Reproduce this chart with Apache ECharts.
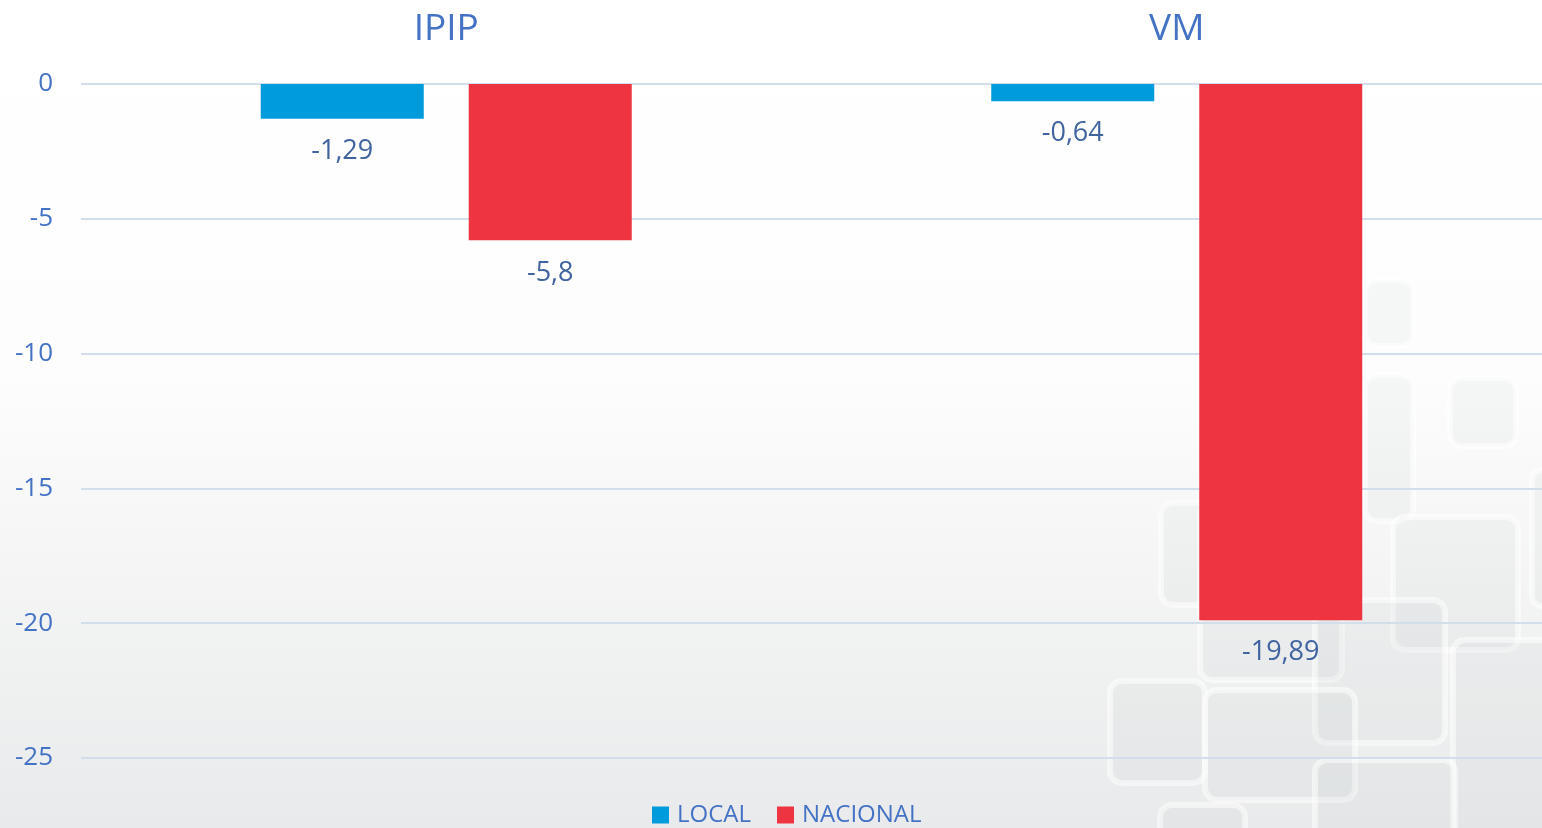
<!DOCTYPE html>
<html>
<head>
<meta charset="utf-8">
<script src="https://cdn.jsdelivr.net/npm/echarts@6/dist/echarts.min.js"></script>
<style>
  html, body { margin: 0; padding: 0; }
  #chart { width: 1542px; height: 828px; }
</style>
</head>
<body>
<div id="chart"></div>
<script>
const categories = ['IPIP', 'VM'];
const localValues = [-1.29, -0.64];
const nacionalValues = [-5.8, -19.89];
const seriesNames = ['LOCAL', 'NACIONAL'];

const textBlue = '#4472C4';
const labelBlue = '#3F64A0';

// decorative rounded squares in the lower right corner
const deco = [
  [1365, 280, 48, 66], [1365, 375, 48, 146], [1450, 378, 66, 68], [1532, 470, 20, 136],
  [1161, 503, 80, 102], [1200, 500, 142, 180], [1393, 517, 125, 133],
  [1315, 600, 130, 143], [1453, 640, 100, 200], [1110, 681, 95, 102],
  [1205, 690, 150, 110], [1160, 805, 85, 40], [1315, 760, 140, 80]
];

const chart = echarts.init(document.getElementById('chart'));

const valueLabel = {
  show: true, position: 'bottom', distance: 19,
  fontSize: 27, color: labelBlue, fontFamily: 'Open Sans',
  formatter: p => String(p.value).replace('.', ',')
};

const option = {
  backgroundColor: {
    type: 'linear', x: 0, y: 0, x2: 0, y2: 1,
    colorStops: [
      {offset: 0, color: '#ffffff'},
      {offset: 0.45, color: '#fdfdfd'},
      {offset: 1, color: '#e9eaeb'}
    ]
  },
  textStyle: {fontFamily: 'Open Sans'},
  graphic: deco.map(d => ({
    type: 'rect',
    z: -1,
    silent: true,
    shape: {x: d[0], y: d[1], width: d[2], height: d[3], r: 12},
    style: {fill: 'rgba(190,194,200,0.12)', stroke: 'rgba(255,255,255,0.5)', lineWidth: 6}
  })),
  legend: {
    data: seriesNames,
    left: 647,
    bottom: -4,
    icon: 'rect',
    itemWidth: 17,
    itemHeight: 17,
    itemGap: 26,
    textStyle: {fontSize: 24, color: textBlue, fontFamily: 'Open Sans', padding: [0, 0, 0, 3]}
  },
  grid: {left: 81, right: 0, top: 84, bottom: 70},
  xAxis: {
    type: 'category',
    data: categories,
    position: 'top',
    axisLine: {show: false},
    axisTick: {show: false},
    axisLabel: {fontSize: 37, color: textBlue, margin: 36, fontFamily: 'Open Sans'}
  },
  yAxis: {
    type: 'value',
    min: -25,
    max: 0,
    interval: 5,
    axisLine: {show: false},
    axisTick: {show: false},
    splitLine: {lineStyle: {color: '#D3DEEC', width: 2}},
    axisLabel: {fontSize: 26, color: textBlue, margin: 28, fontFamily: 'Open Sans'}
  },
  series: [
    {
      name: seriesNames[0],
      type: 'bar',
      data: localValues,
      barWidth: 163,
      barGap: '27.6%',
      itemStyle: {color: '#009BDB'},
      label: valueLabel
    },
    {
      name: seriesNames[1],
      type: 'bar',
      data: nacionalValues,
      barWidth: 163,
      barGap: '27.6%',
      itemStyle: {color: '#EE3440'},
      label: valueLabel
    }
  ]
};

chart.setOption(option);
</script>
</body>
</html>
